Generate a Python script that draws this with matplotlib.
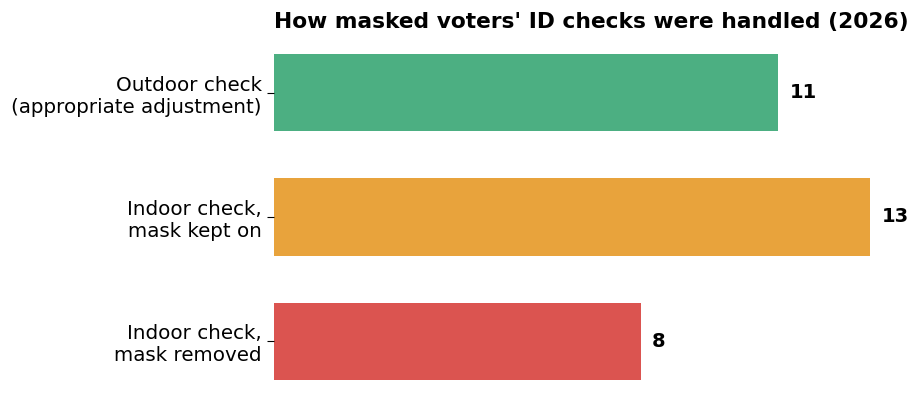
import matplotlib
matplotlib.use('Agg')
import matplotlib.pyplot as plt

categories = ['Outdoor check\n(appropriate adjustment)',
              'Indoor check,\nmask kept on',
              'Indoor check,\nmask removed']
counts = [11, 13, 8]
colors = ['#4caf82', '#e8a33c', '#db5450']
title = "How masked voters' ID checks were handled (2026)"

fig = plt.figure(figsize=(9.1, 3.94), dpi=100)
ax = fig.add_axes([274 / 910, -2 / 394, (870 - 274) / 910, 358 / 394])

ypos = list(range(len(categories)))
ax.barh(ypos, counts, height=0.62, color=colors)
for y, v in zip(ypos, counts):
    ax.text(v + 0.25, y, str(v), va='center', ha='left',
            fontsize=14, fontweight='bold')

ax.set_yticks(ypos)
ax.set_yticklabels(categories, fontsize=14.3)
ax.set_xlim(0, 13)
ax.set_ylim(2.44, -0.44)
ax.set_xticks([])
for s in ax.spines.values():
    s.set_visible(False)
ax.tick_params(axis='y', length=5, pad=4)
ax.set_title(title, loc='left', fontsize=15.7, fontweight='bold', pad=7)

fig.savefig('out.png', dpi=100)
